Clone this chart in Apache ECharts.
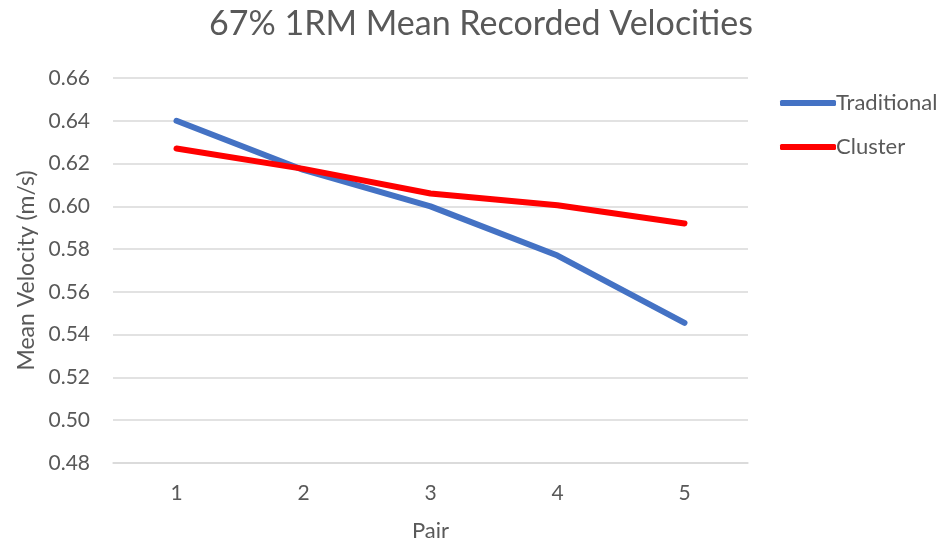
<!DOCTYPE html>
<html><head><meta charset="utf-8">
<script src="https://cdn.jsdelivr.net/npm/echarts@6/dist/echarts.min.js"></script>
<style>html,body{margin:0;padding:0;background:#fff}#c{width:950px;height:548px}</style>
</head><body><div id="c"></div>
<script>
const categories = ['1', '2', '3', '4', '5'];
const traditional = [0.640, 0.617, 0.600, 0.577, 0.5455];
const cluster = [0.627, 0.6175, 0.606, 0.6005, 0.592];
const yTicks = { min: 0.48, max: 0.66, interval: 0.02 };

const FONT = 'Lato, "Open Sans", sans-serif';
const TXT = '#595959';
const chart = echarts.init(document.getElementById('c'), null, { renderer: 'canvas' });
chart.setOption({
  animation: false,
  backgroundColor: '#fff',
  title: {
    text: '67% 1RM Mean Recorded Velocities',
    left: 476, top: 2, textAlign: 'center',
    textStyle: { fontFamily: FONT, fontSize: 34, fontWeight: 'normal', color: TXT }
  },
  legend: {
    orient: 'vertical', left: 775, top: 87, itemGap: 22,
    itemWidth: 56, itemHeight: 6, icon: 'roundRect',
    textStyle: { fontFamily: FONT, fontSize: 22, color: TXT, padding: [0, 0, 0, -5] },
    data: ['Traditional', 'Cluster']
  },
  grid: { left: 113, right: 202, top: 78, bottom: 85, containLabel: false },
  xAxis: {
    type: 'category', data: categories, boundaryGap: true,
    name: 'Pair', nameLocation: 'middle', nameGap: 57,
    nameTextStyle: { fontFamily: FONT, fontSize: 22, color: TXT },
    axisLine: { show: true, lineStyle: { color: '#d9d9d9', width: 1.5 } },
    axisTick: { show: false },
    axisLabel: { fontFamily: FONT, fontSize: 21, color: TXT, margin: 20 }
  },
  yAxis: {
    type: 'value', min: yTicks.min, max: yTicks.max, interval: yTicks.interval,
    name: 'Mean Velocity (m/s)', nameLocation: 'middle', nameGap: 75,
    nameTextStyle: { fontFamily: FONT, fontSize: 23, color: TXT },
    axisLine: { show: false }, axisTick: { show: false },
    axisLabel: { fontFamily: FONT, fontSize: 21, color: TXT, margin: 23,
      formatter: v => v.toFixed(2) },
    splitLine: { lineStyle: { color: '#d9d9d9', width: 1.5 } }
  },
  series: [
    { name: 'Traditional', type: 'line', data: traditional, symbol: 'none',
      color: '#4472C4', lineStyle: { width: 6, cap: 'round', join: 'round' } },
    { name: 'Cluster', type: 'line', data: cluster, symbol: 'none',
      color: '#FF0000', lineStyle: { width: 6, cap: 'round', join: 'round' } }
  ]
});
</script></body></html>
